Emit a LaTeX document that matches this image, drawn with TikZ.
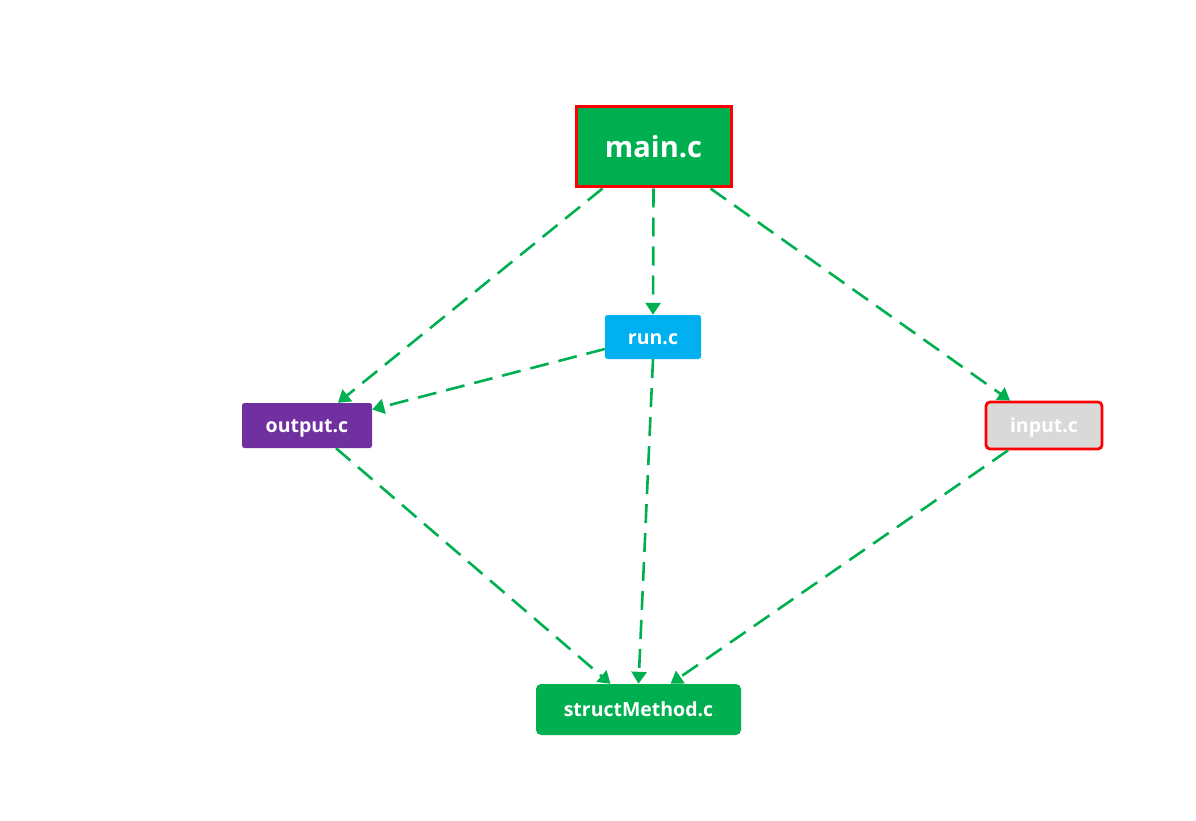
\documentclass[tikz,border=0pt]{standalone}
\usepackage{fontspec}
\setmainfont{Open Sans}
\usetikzlibrary{arrows.meta,calc}
\definecolor{cgreen}{HTML}{00B050}
\definecolor{cblue}{HTML}{00B0F0}
\definecolor{cpurple}{HTML}{7030A0}
\definecolor{cgray}{HTML}{D9D9D9}
\definecolor{cred}{HTML}{FF0000}
\tikzset{
  x=1pt, y=-1pt,
  filebox/.style={rectangle, rounded corners=2.5pt, inner sep=0pt, text=white, text height=15.6pt, text depth=1.6pt, font=\bfseries\fontsize{19.5}{22}\selectfont},
  dep/.style={draw=cgreen, line width=2.6pt, dash pattern=on 19pt off 10pt, -{Triangle[width=15pt,length=12pt]}},
}
\begin{document}
\begin{tikzpicture}
\useasboundingbox (0,0) rectangle (1196,821);
\node[filebox, rounded corners=0pt, fill=cgreen, draw=cred, line width=3pt, minimum width=155pt, minimum height=80pt, text height=23.2pt, text depth=2.3pt, font=\bfseries\fontsize{29}{32}\selectfont] (main) at (653.5,147) {main.c};
\node[filebox, fill=cblue, minimum width=96pt, minimum height=44pt] (run) at (653,337) {run.c};
\node[filebox, fill=cpurple, minimum width=130pt, minimum height=45pt] (output) at (307,425.5) {output.c};
\node[filebox, fill=cgray, draw=cred, line width=2.8pt, rounded corners=4pt, minimum width=116pt, minimum height=47pt] (input) at (1044,425.5) {input.c};
\node[filebox, fill=cgreen, rounded corners=5pt, minimum width=205pt, minimum height=51pt] (sm) at (638.5,709.5) {structMethod.c};

\draw[dep] ([xshift=-51pt]main.south) -- ([xshift=31pt]output.north);
\draw[dep] (main.south) -- (run.north);
\draw[dep] ([xshift=57pt]main.south) -- ([xshift=-34pt]input.north);
\draw[dep] ([yshift=-12pt]run.west) -- ([yshift=16pt]output.east);
\draw[dep] (run.south) -- ([xshift=0pt]sm.north);
\draw[dep] ([xshift=29pt]output.south) -- ([xshift=-28pt]sm.north);
\draw[dep] ([xshift=-36pt]input.south) -- ([xshift=32pt]sm.north);
\end{tikzpicture}
\end{document}
